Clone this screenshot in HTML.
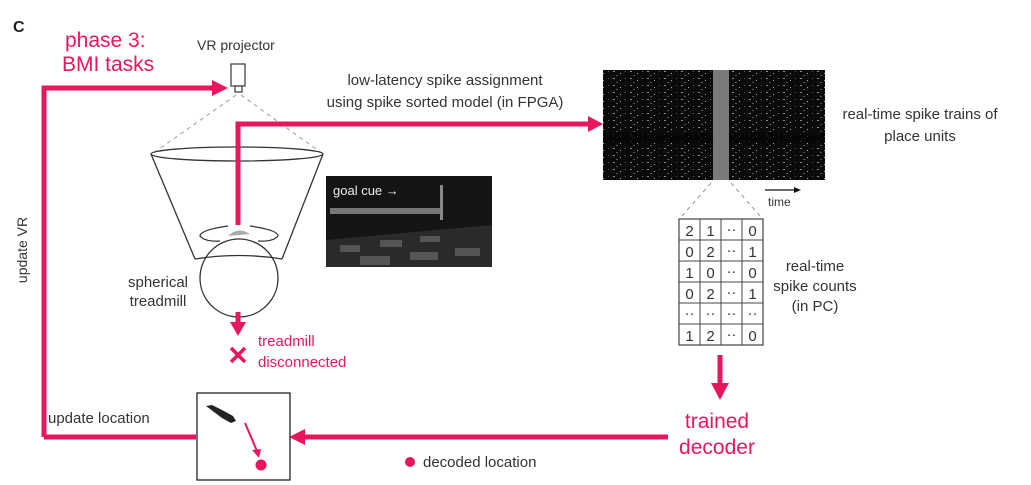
<!DOCTYPE html>
<html><head><meta charset="utf-8"><style>
body{margin:0;background:#fff}
svg{display:block}
text{font-family:"Liberation Sans",sans-serif}
</style></head><body>
<svg width="1031" height="485" viewBox="0 0 1031 485" xmlns="http://www.w3.org/2000/svg">
<defs>
<pattern id="sp" width="17" height="7" patternUnits="userSpaceOnUse">
<rect width="17" height="7" fill="#0b0b0b"/>
<rect x="1" y="1" width="2" height="1" fill="#8a8a8a"/>
<rect x="8" y="3" width="1" height="1" fill="#b8a898"/>
<rect x="13" y="1" width="1" height="1" fill="#666"/>
<rect x="4" y="5" width="2" height="1" fill="#555"/>
</pattern>
</defs>
<g fill="#e8175d" stroke="none">
<text x="13" y="32" font-size="16" font-weight="bold" fill="#222">C</text>
<text x="65" y="47" font-size="21">phase 3:</text>
<text x="62" y="71" font-size="21">BMI tasks</text>
</g>
<text x="197" y="50" font-size="14" fill="#333">VR projector</text>
<rect x="231" y="64" width="14" height="22" fill="#fff" stroke="#444" stroke-width="1.3"/>
<rect x="235" y="86" width="7" height="6" fill="#fff" stroke="#444" stroke-width="1.3"/>
<line x1="236" y1="95" x2="152" y2="154" stroke="#aaa" stroke-dasharray="4,4" stroke-width="1.2"/>
<line x1="241" y1="95" x2="323" y2="154" stroke="#aaa" stroke-dasharray="4,4" stroke-width="1.2"/>
<ellipse cx="237" cy="154" rx="86" ry="7" fill="none" stroke="#333" stroke-width="1.3"/>
<line x1="151" y1="154" x2="195" y2="259" stroke="#333" stroke-width="1.3"/>
<line x1="323" y1="154" x2="282" y2="259" stroke="#333" stroke-width="1.3"/>
<circle cx="239" cy="278" r="39" fill="#fff" stroke="#333" stroke-width="1.3"/>
<path d="M195 259 Q238 252 282 259" fill="none" stroke="#333" stroke-width="1.3"/>
<path d="M228 226 Q200 230 200 236 Q205 242 220 241" fill="none" stroke="#333" stroke-width="1.3"/>
<path d="M250 226 Q278 230 278 236 Q273 242 258 241" fill="none" stroke="#333" stroke-width="1.3"/>
<path d="M228 236 Q238 226 250 234 Z" fill="#aaa"/>
<text x="158" y="287" font-size="15" fill="#333" text-anchor="middle">spherical</text>
<text x="158" y="306" font-size="15" fill="#333" text-anchor="middle">treadmill</text>
<rect x="326" y="176" width="166" height="91" fill="#141414"/>
<path d="M326 240 L492 225 L492 267 L326 267 Z" fill="#2a2a2a"/>
<g fill="#555"><rect x="340" y="245" width="20" height="7"/><rect x="380" y="240" width="22" height="7"/><rect x="420" y="236" width="20" height="6"/><rect x="360" y="256" width="30" height="9"/><rect x="410" y="252" width="28" height="8"/><rect x="455" y="248" width="25" height="8"/></g>
<rect x="330" y="208" width="110" height="6" fill="#777"/>
<rect x="440" y="185" width="3" height="35" fill="#888"/>
<text x="333" y="195" font-size="13" fill="#eee">goal cue →</text>
<g stroke="#e8175d" stroke-width="5" fill="none">
<polyline points="44,437 44,88 215,88"/>
<polyline points="238,225 238,124 590,124"/>
<line x1="238" y1="312" x2="238" y2="324"/>
<line x1="720" y1="355" x2="720" y2="385"/>
<line x1="668" y1="437" x2="302" y2="437"/>
<line x1="44" y1="437" x2="196" y2="437"/>
<line x1="231" y1="348" x2="245" y2="362" stroke-width="3.5"/>
<line x1="245" y1="348" x2="231" y2="362" stroke-width="3.5"/>
</g>
<g fill="#e8175d">
<polygon points="212,80 228,88 212,96"/>
<polygon points="588,116 603,124 588,132"/>
<polygon points="230,322 246,322 238,336"/>
<polygon points="711,383 729,383 720,400"/>
<polygon points="305,429 289,437 305,445"/>
</g>
<text x="445" y="85" font-size="15" fill="#333" text-anchor="middle">low-latency spike assignment</text>
<text x="445" y="107" font-size="15" fill="#333" text-anchor="middle">using spike sorted model (in FPGA)</text>
<text x="258" y="346" font-size="15" fill="#e8175d">treadmill</text>
<text x="258" y="367" font-size="15" fill="#e8175d">disconnected</text>
<text transform="translate(27,250) rotate(-90)" font-size="14" fill="#333" text-anchor="middle">update VR</text>
<rect x="603" y="70" width="222" height="110" fill="url(#sp)"/>
<rect x="603" y="133" width="222" height="10" fill="#050505" opacity="0.75"/>
<rect x="713" y="70" width="16" height="110" fill="#7a7a7a"/>
<line x1="711" y1="183" x2="681" y2="217" stroke="#999" stroke-dasharray="4,4"/>
<line x1="731" y1="183" x2="761" y2="217" stroke="#999" stroke-dasharray="4,4"/>
<line x1="765" y1="190" x2="795" y2="190" stroke="#111" stroke-width="1.2"/>
<polygon points="794,187 801,190 794,193" fill="#111"/>
<text x="768" y="206" font-size="12" fill="#333">time</text>
<text x="920" y="119" font-size="15" fill="#333" text-anchor="middle">real-time spike trains of</text>
<text x="920" y="141" font-size="15" fill="#333" text-anchor="middle">place units</text>
<g font-size="15" fill="#333" text-anchor="middle">
<rect x="679" y="219" width="84" height="126" fill="#fff" stroke="#444" stroke-width="1.2"/>
<g stroke="#444" stroke-width="1">
<line x1="700" y1="219" x2="700" y2="345"/><line x1="721" y1="219" x2="721" y2="345"/><line x1="742" y1="219" x2="742" y2="345"/>
<line x1="679" y1="240" x2="763" y2="240"/><line x1="679" y1="261" x2="763" y2="261"/><line x1="679" y1="282" x2="763" y2="282"/><line x1="679" y1="303" x2="763" y2="303"/><line x1="679" y1="324" x2="763" y2="324"/>
</g>
<text x="689.5" y="236">2</text><text x="710.5" y="236">1</text><text x="731.5" y="234">··</text><text x="752.5" y="236">0</text>
<text x="689.5" y="257">0</text><text x="710.5" y="257">2</text><text x="731.5" y="255">··</text><text x="752.5" y="257">1</text>
<text x="689.5" y="278">1</text><text x="710.5" y="278">0</text><text x="731.5" y="276">··</text><text x="752.5" y="278">0</text>
<text x="689.5" y="299">0</text><text x="710.5" y="299">2</text><text x="731.5" y="297">··</text><text x="752.5" y="299">1</text>
<text x="689.5" y="318">··</text><text x="710.5" y="318">··</text><text x="731.5" y="318">··</text><text x="752.5" y="318">··</text>
<text x="689.5" y="341">1</text><text x="710.5" y="341">2</text><text x="731.5" y="339">··</text><text x="752.5" y="341">0</text>
</g>
<text x="815" y="271" font-size="15" fill="#333" text-anchor="middle">real-time</text>
<text x="815" y="291" font-size="15" fill="#333" text-anchor="middle">spike counts</text>
<text x="815" y="311" font-size="15" fill="#333" text-anchor="middle">(in PC)</text>
<text x="717" y="428" font-size="21" fill="#e8175d" text-anchor="middle">trained</text>
<text x="717" y="454" font-size="21" fill="#e8175d" text-anchor="middle">decoder</text>
<rect x="197" y="393" width="93" height="87" fill="#fff" stroke="#222" stroke-width="1.3"/>
<path d="M206 406 L212 405 L222 410 L233 416 L236 421 L231 423 L222 418 Z" fill="#222"/>
<line x1="245" y1="423" x2="257" y2="451" stroke="#e8175d" stroke-width="2"/>
<polygon points="252,450 261,449 259,458" fill="#e8175d"/>
<circle cx="261" cy="465" r="5.5" fill="#e8175d"/>
<text x="48" y="423" font-size="15" fill="#333">update location</text>
<circle cx="410" cy="462" r="5" fill="#e8175d"/>
<text x="423" y="467" font-size="15" fill="#333">decoded location</text>
</svg>
</body></html>
